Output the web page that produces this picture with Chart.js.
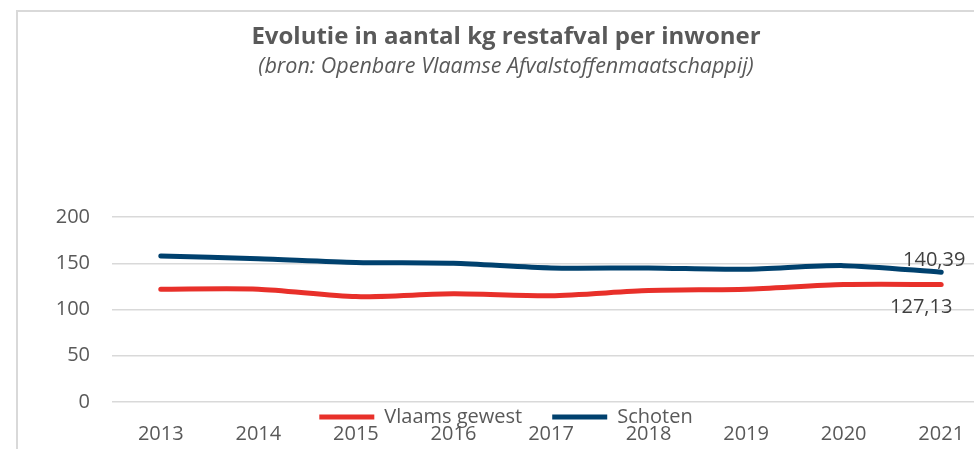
<!DOCTYPE html>
<html>
<head>
<meta charset="utf-8">
<script src="https://cdn.jsdelivr.net/npm/chart.js@4.4.1/dist/chart.umd.min.js"></script>
<style>
  html, body { margin: 0; padding: 0; background: #fff; overflow: hidden; }
  #frame {
    position: absolute;
    left: 16px;
    top: 10px;
    width: 972px;
    height: 521px;
    border: 2px solid #d9d9d9;
    background: #fff;
  }
</style>
</head>
<body>
<div id="frame"><canvas id="chart"></canvas></div>
<script>
const years = ["2013", "2014", "2015", "2016", "2017", "2018", "2019", "2020", "2021"];
const vlaamsGewest = [122, 122, 114, 117, 115, 120.5, 122, 127, 127.13];
const schoten = [158, 155, 151, 150, 145, 145, 143.5, 147.5, 140.39];
const yTicks = [0, 50, 100, 150, 200];

const grey = "#595959";
const fontFamily = "'Open Sans', 'Liberation Sans', sans-serif";

// labels on the last point of each series
const lastValueLabels = {
  id: "lastValueLabels",
  afterDatasetsDraw(chart) {
    const ctx = chart.ctx;
    const offsets = [{ dx: -20, dy: 23 }, { dx: -7, dy: -12 }];
    ctx.save();
    ctx.font = "20px " + fontFamily;
    ctx.fillStyle = "#404040";
    ctx.textAlign = "center";
    ctx.textBaseline = "middle";
    chart.data.datasets.forEach((ds, i) => {
      const last = ds.data.length - 1;
      const x = chart.scales.x.getPixelForValue(last);
      const y = chart.scales.y.getPixelForValue(ds.data[last]);
      const txt = ds.data[last].toFixed(2).replace(".", ",");
      ctx.fillText(txt, x + offsets[i].dx, y + offsets[i].dy);
    });
    ctx.restore();
  },
};

// move the legend up so it sits over the axis labels like in the original
const legendShift = {
  id: "legendShift",
  afterLayout(chart) {
    const legend = chart.legend;
    const h = legend.height;
    legend.top = 365;
    legend.bottom = legend.top + h;
  },
};

const ctx = document.getElementById("chart").getContext("2d");
new Chart(ctx, {
  type: "line",
  data: {
    labels: years,
    datasets: [
      {
        label: "Vlaams gewest",
        data: vlaamsGewest,
        borderColor: "#e8302a",
        backgroundColor: "#e8302a",
        borderWidth: 5,
        borderCapStyle: "round",
        borderJoinStyle: "round",
        pointRadius: 0,
        tension: 0.25,
      },
      {
        label: "Schoten",
        data: schoten,
        borderColor: "#00416e",
        backgroundColor: "#00416e",
        borderWidth: 5,
        borderCapStyle: "round",
        borderJoinStyle: "round",
        pointRadius: 0,
        tension: 0.25,
      },
    ],
  },
  options: {
    responsive: true,
    maintainAspectRatio: false,
    animation: false,
    layout: { padding: { left: 0, right: -4, top: 0, bottom: 7 } },
    plugins: {
      title: {
        display: true,
        text: "Evolutie in aantal kg restafval per inwoner",
        color: grey,
        font: { family: fontFamily, size: 24, weight: "bold" },
        padding: { top: 11, bottom: 2 },
      },
      subtitle: {
        display: true,
        text: "(bron: Openbare Vlaamse Afvalstoffenmaatschappij)",
        color: grey,
        font: { family: fontFamily, size: 21.5, style: "italic" },
        padding: { top: 0, bottom: 137.5 },
      },
      legend: {
        position: "bottom",
        labels: {
          usePointStyle: true,
          pointStyle: "line",
          pointStyleWidth: 55,
          padding: 30,
          color: grey,
          font: { family: fontFamily, size: 20 },
        },
      },
      tooltip: { enabled: false },
    },
    scales: {
      x: {
        offset: true,
        grid: { display: false, drawTicks: false },
        border: { display: false },
        ticks: { color: grey, padding: 20, font: { family: fontFamily, size: 20 } },
      },
      y: {
        min: 0,
        max: 200,
        afterFit: (scale) => { scale.width = 94; },
        afterBuildTicks: (scale) => { scale.ticks = yTicks.map((v) => ({ value: v })); },
        grid: { color: "#d9d9d9", lineWidth: 1.5, drawTicks: false },
        border: { display: false },
        ticks: { color: grey, padding: 22, font: { family: fontFamily, size: 20 } },
      },
    },
  },
  plugins: [lastValueLabels, legendShift],
});
</script>
</body>
</html>
